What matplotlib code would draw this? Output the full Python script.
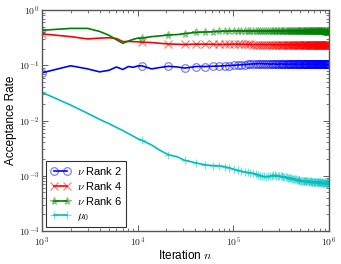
import numpy as np
import matplotlib
matplotlib.use("Agg")
import matplotlib.pyplot as plt
from matplotlib.ticker import FuncFormatter, LogLocator

plt.rcParams["font.family"] = ["Liberation Sans", "DejaVu Sans"]
plt.rcParams["mathtext.fontset"] = "cm"
plt.rcParams["font.size"] = 8

# iteration grid at which the acceptance rates were recorded
n_early = [1000, 2000, 3000, 4000, 5000, 6000, 7000, 8000, 9000, 10000]
n_mid = [11000, 14000, 17000, 21000, 26000, 31000, 36000, 41000]
n_late = list(range(51000, 1000000, 10000)) + [1000000]
iterations = np.array(n_early + n_mid + n_late)

rank2 = [
    0.073, 0.098, 0.086, 0.076, 0.081, 0.093, 0.084, 0.095, 0.092, 0.097,
    0.098, 0.086, 0.091, 0.096, 0.093, 0.089, 0.092, 0.095,
    0.095, 0.096, 0.097, 0.098, 0.099, 0.100, 0.101, 0.102, 0.103, 0.104,
    0.105, 0.106, 0.106, 0.107, 0.107, 0.107, 0.106, 0.106, 0.106, 0.105,
    0.105, 0.106, 0.105, 0.105, 0.104, 0.105, 0.105, 0.106, 0.105, 0.105,
    0.104, 0.105, 0.105, 0.104, 0.105, 0.105, 0.106, 0.105, 0.104, 0.105,
    0.105, 0.104, 0.105, 0.105, 0.105, 0.104, 0.105, 0.105, 0.104, 0.105,
    0.105, 0.105, 0.104, 0.104, 0.105, 0.105, 0.104, 0.105, 0.105, 0.104,
    0.104, 0.105, 0.105, 0.104, 0.104, 0.105, 0.104, 0.104, 0.105, 0.104,
    0.104, 0.104, 0.105, 0.104, 0.104, 0.104, 0.105, 0.104, 0.104, 0.104,
    0.104, 0.104, 0.104, 0.105, 0.104, 0.104, 0.104, 0.104, 0.104, 0.104,
    0.104, 0.104, 0.104, 0.104, 0.104,
    0.104,
]
rank4 = [
    0.370, 0.330, 0.300, 0.310, 0.315, 0.305, 0.268, 0.270, 0.268, 0.266,
    0.262, 0.258, 0.250, 0.243, 0.240, 0.238, 0.240, 0.241,
    0.241, 0.240, 0.238, 0.239, 0.240, 0.241, 0.241, 0.240, 0.240, 0.239,
    0.238, 0.237, 0.237, 0.236, 0.236, 0.237, 0.236, 0.235, 0.235, 0.236,
    0.236, 0.235, 0.235, 0.234, 0.235, 0.235, 0.234, 0.234, 0.235, 0.234,
    0.234, 0.234, 0.233, 0.234, 0.234, 0.233, 0.234, 0.234, 0.233, 0.233,
    0.233, 0.234, 0.233, 0.233, 0.233, 0.232, 0.233, 0.233, 0.232, 0.233,
    0.233, 0.232, 0.232, 0.233, 0.232, 0.232, 0.233, 0.232, 0.232, 0.232,
    0.232, 0.232, 0.231, 0.232, 0.232, 0.232, 0.231, 0.232, 0.232, 0.231,
    0.232, 0.231, 0.231, 0.232, 0.231, 0.231, 0.231, 0.232, 0.231, 0.231,
    0.231, 0.231, 0.231, 0.230, 0.231, 0.231, 0.231, 0.230, 0.231, 0.231,
    0.230, 0.231, 0.231, 0.230, 0.230,
    0.230,
]
rank6 = [
    0.430, 0.465, 0.465, 0.410, 0.350, 0.290, 0.250, 0.275, 0.295, 0.310,
    0.310, 0.330, 0.340, 0.353, 0.360, 0.375, 0.385, 0.395,
    0.400, 0.405, 0.410, 0.412, 0.415, 0.417, 0.418, 0.418, 0.417, 0.416,
    0.416, 0.415, 0.416, 0.417, 0.416, 0.415, 0.415, 0.416, 0.415, 0.414,
    0.415, 0.415, 0.414, 0.415, 0.414, 0.414, 0.415, 0.414, 0.413, 0.414,
    0.414, 0.413, 0.414, 0.413, 0.413, 0.414, 0.413, 0.412, 0.413, 0.413,
    0.412, 0.413, 0.412, 0.412, 0.413, 0.412, 0.412, 0.411, 0.412, 0.412,
    0.411, 0.412, 0.411, 0.411, 0.412, 0.411, 0.411, 0.410, 0.411, 0.411,
    0.410, 0.411, 0.410, 0.410, 0.411, 0.410, 0.410, 0.410, 0.409, 0.410,
    0.410, 0.409, 0.410, 0.410, 0.409, 0.409, 0.410, 0.409, 0.409, 0.409,
    0.409, 0.409, 0.408, 0.409, 0.409, 0.408, 0.409, 0.408, 0.408, 0.408,
    0.408, 0.408, 0.408, 0.408, 0.408,
    0.408,
]
mu0 = [
    0.0324, 0.0190, 0.0135, 0.0105, 0.0088, 0.0075, 0.0066, 0.0058, 0.0052, 0.0047,
    0.0044, 0.0036, 0.0029, 0.0024, 0.0022, 0.0019, 0.0018, 0.0017,
    0.00157, 0.00153, 0.00152, 0.00146, 0.00139, 0.00131, 0.00125, 0.00120, 0.00117, 0.00115,
    0.00112, 0.00110, 0.00107, 0.00104, 0.00101, 0.00098, 0.00097, 0.00096, 0.00097, 0.00099,
    0.00101, 0.00102, 0.00102, 0.00101, 0.00100, 0.00099, 0.00098, 0.00097, 0.00096, 0.00095,
    0.00094, 0.00093, 0.00092, 0.00091, 0.00090, 0.00090, 0.00089, 0.00088, 0.00087, 0.00087,
    0.00086, 0.00085, 0.00085, 0.00084, 0.00083, 0.00082, 0.00082, 0.00081, 0.00081, 0.00080,
    0.00080, 0.00079, 0.00079, 0.00080, 0.00080, 0.00079, 0.00078, 0.00078, 0.00079, 0.00079,
    0.00078, 0.00078, 0.00077, 0.00077, 0.00078, 0.00078, 0.00077, 0.00077, 0.00076, 0.00076,
    0.00077, 0.00077, 0.00076, 0.00076, 0.00075, 0.00076, 0.00076, 0.00075, 0.00075, 0.00076,
    0.00076, 0.00075, 0.00075, 0.00074, 0.00075, 0.00075, 0.00076, 0.00075, 0.00075, 0.00074,
    0.00075, 0.00075, 0.00076, 0.00075, 0.00075,
    0.00075,
]

series = [
    (rank2, r"$\nu$ Rank 2", (0, 0, 1), "o"),
    (rank4, r"$\nu$ Rank 4", (1, 0, 0), "x"),
    (rank6, r"$\nu$ Rank 6", (0, 0.5, 0), "*"),
    (mu0, r"$\mu_0$", (0, 0.75, 0.75), "+"),
]

# a marker every 10000 iterations, starting at n = 1000
marker_idx = [i for i, n in enumerate(iterations) if (n - 1000) % 10000 == 0]

fig = plt.figure(figsize=(3.41, 2.64), dpi=100)
ax = fig.add_axes([0.123, 0.125, 0.842, 0.837])

for values, label, color, marker in series:
    ax.plot(iterations, values, color=color, lw=1.2, label=label,
            marker=marker, markevery=marker_idx, ms=5.5, mew=0.9,
            mfc="none", mec=color + (0.5,))

ax.set_xscale("log")
ax.set_yscale("log")
ax.set_xlim(1e3, 1e6)
ax.set_ylim(1e-4, 1e0)

decade = FuncFormatter(lambda v, pos: r"$10^{%d}$" % int(round(np.log10(v))))
ax.xaxis.set_major_formatter(decade)
ax.yaxis.set_major_formatter(decade)
ax.xaxis.set_major_locator(LogLocator(base=10, numticks=10))
ax.yaxis.set_major_locator(LogLocator(base=10, numticks=10))
ax.tick_params(which="both", direction="in", top=True, right=True,
               labelsize=7, color="#444444", labelcolor="#222222")
ax.tick_params(which="major", length=4, width=0.6, pad=2)
ax.tick_params(which="minor", length=2, width=0.5)
ax.tick_params(axis="x", which="major", pad=3)
for spine in ax.spines.values():
    spine.set_color("#555555")
    spine.set_linewidth(1.0)

ax.set_xlabel(r"Iteration $n$", fontsize=8.5, labelpad=0)
ax.set_ylabel("Acceptance Rate", fontsize=8.5, labelpad=1)

leg = ax.legend(loc="lower left", numpoints=2, fontsize=8, handlelength=1.8,
                borderaxespad=0.4, fancybox=False, framealpha=1,
                labelspacing=0.3, handletextpad=0.6, borderpad=0.35)
leg.get_frame().set_edgecolor("#333333")
leg.get_frame().set_linewidth(0.8)

fig.savefig("out.png", dpi=100)
